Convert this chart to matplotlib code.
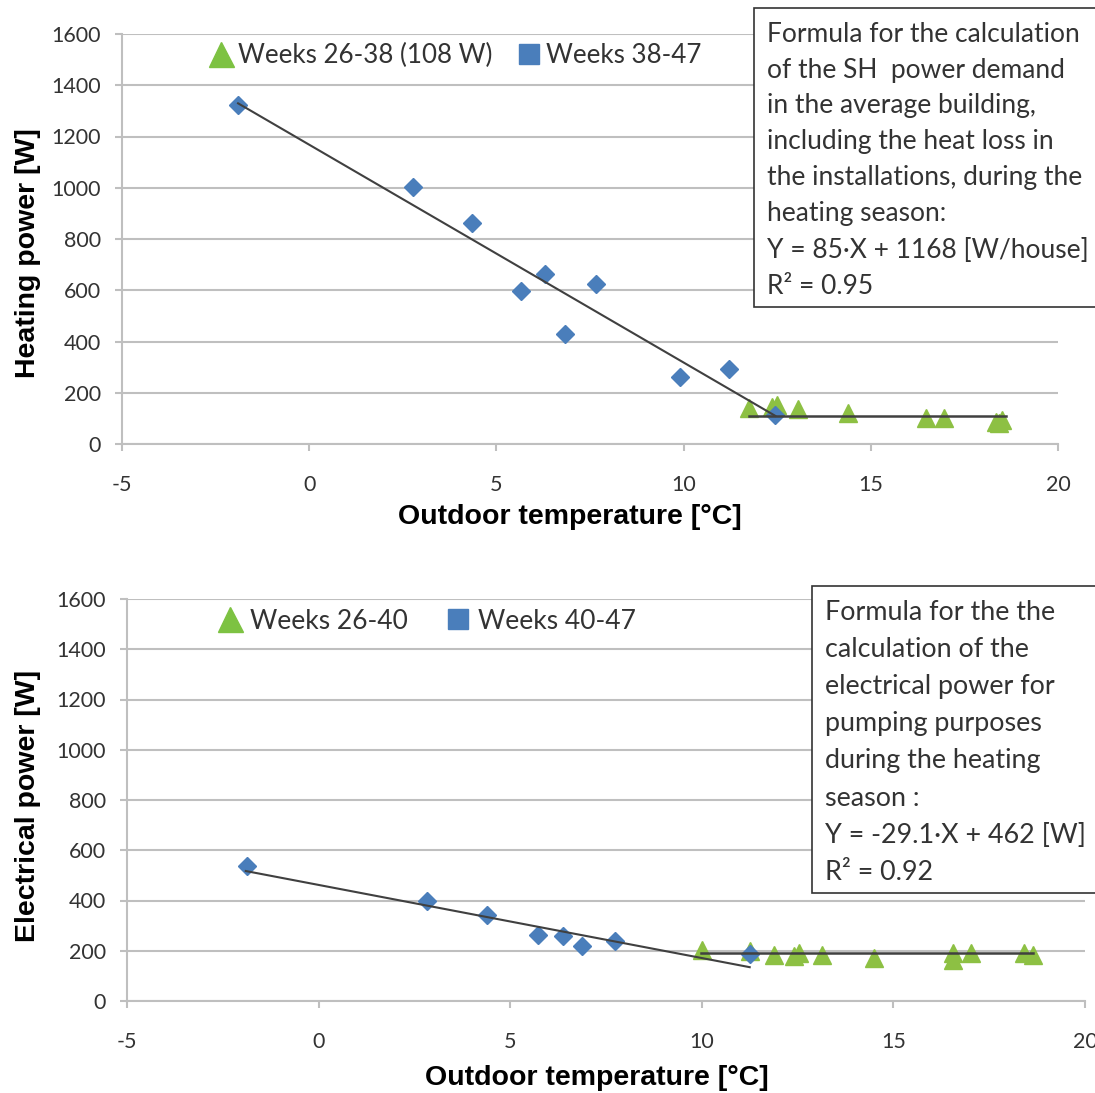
import matplotlib
matplotlib.use("Agg")
import matplotlib.pyplot as plt
from matplotlib.lines import Line2D
from matplotlib.patches import Rectangle

plt.rcParams['font.family'] = ['Lato', 'DejaVu Sans']
plt.rcParams['axes.unicode_minus'] = False

# Top chart: space heating power
heat_blue_x = [-1.9, 2.78, 4.35, 5.66, 6.30, 6.84, 7.67, 9.91, 11.22, 12.45]
heat_blue_y = [1323, 1003, 862, 597, 663, 429, 624, 261, 293, 113]
heat_green_x = [11.75, 12.37, 12.5, 13.06, 14.4, 16.48, 16.96, 18.35, 18.43, 18.5]
heat_green_y = [140, 144, 152, 137, 121, 101, 101, 86, 82, 94]
heat_slope, heat_icept = -85, 1168
heat_fit_x = [-1.9, 12.45]
heat_flat = 108
heat_flat_x = [11.75, 18.6]

# Bottom chart: electrical pumping power
el_blue_x = [-1.88, 2.82, 4.39, 5.72, 6.37, 6.87, 7.73, 11.25]
el_blue_y = [537, 398, 342, 263, 259, 219, 239, 188]
el_green_x = [10.0, 11.25, 11.88, 12.40, 12.53, 13.13, 14.49, 16.55, 16.55, 17.02, 18.41, 18.64]
el_green_y = [203, 199, 183, 179, 191, 183, 171, 191, 163, 191, 191, 183]
el_slope, el_icept = -29.1, 462
el_fit_x = [-1.9, 11.25]
el_flat = 192
el_flat_x = [9.97, 18.64]

x_ticks = [-5, 0, 5, 10, 15, 20]
y_ticks = [0, 200, 400, 600, 800, 1000, 1200, 1400, 1600]

blue = '#4A7EBB'
green = '#8DC043'
grid_c = '#BFBFBF'
line_c = '#404040'

W, H = 1095, 1093
fig = plt.figure(figsize=(W / 100, H / 100), dpi=100)


def px_axes(l, t, r, b):
    return fig.add_axes([l / W, 1 - b / H, (r - l) / W, (b - t) / H])


def style(ax):
    ax.set_xlim(-5, 20)
    ax.set_ylim(0, 1600)
    ax.set_xticks(x_ticks)
    ax.set_yticks(y_ticks)
    ax.grid(axis='y', color=grid_c, lw=1.5)
    ax.set_axisbelow(True)
    for s in ['top', 'right']:
        ax.spines[s].set_visible(False)
    for s in ['left', 'bottom']:
        ax.spines[s].set_color(grid_c)
        ax.spines[s].set_linewidth(1.5)
    ax.tick_params(axis='y', length=5, width=1.5, color=grid_c, pad=10,
                   labelsize=15.5, labelcolor='#333333')
    ax.tick_params(axis='x', length=5, width=1.5, color=grid_c, pad=17,
                   labelsize=15.5, labelcolor='#333333')


def draw(ax, bx, by, gx, gy, slope, icept, fit_x, flat, flat_x):
    ax.plot(gx, gy, ls='none', marker='^', ms=12.5, color=green, mec=green, zorder=3)
    ax.plot(bx, by, ls='none', marker='D', ms=9, color=blue, mec=blue, zorder=3)
    ax.plot(fit_x, [slope * v + icept for v in fit_x], color=line_c, lw=1.5, zorder=4)
    ax.plot(flat_x, [flat, flat], color=line_c, lw=1.8, zorder=4)


label_kw = dict(ha='center', va='center', fontsize=20.5, fontweight='bold',
                family='Liberation Sans')

# top
ax1 = px_axes(122, 34, 1058, 444)
style(ax1)
draw(ax1, heat_blue_x, heat_blue_y, heat_green_x, heat_green_y,
     heat_slope, heat_icept, heat_fit_x, heat_flat, heat_flat_x)
h1 = [Line2D([], [], ls='none', marker='^', ms=18, color='#7DC242'),
      Line2D([], [], ls='none', marker='s', ms=14, color=blue)]
ax1.legend(h1, ['Weeks 26-38 (108 W)', 'Weeks 38-47'], loc='upper left',
           bbox_to_anchor=(0.07, 1.035), ncol=2, frameon=False, fontsize=18.7,
           handlelength=0.8, handletextpad=0.25, columnspacing=1.0,
           labelcolor='#333333')
fig.text(28 / W, 1 - 253 / H, 'Heating power [W]', rotation=90, **label_kw)
fig.text(570 / W, 1 - 517 / H, 'Outdoor temperature [°C]', **label_kw)

# bottom
ax2 = px_axes(127, 599, 1085, 1001)
style(ax2)
draw(ax2, el_blue_x, el_blue_y, el_green_x, el_green_y,
     el_slope, el_icept, el_fit_x, el_flat, el_flat_x)
ax2.legend(h1, ['Weeks 26-40', 'Weeks 40-47'], loc='upper left',
           bbox_to_anchor=(0.072, 1.035), ncol=2, frameon=False, fontsize=19,
           handlelength=0.8, handletextpad=0.35, columnspacing=1.5,
           labelcolor='#333333')
fig.text(28 / W, 1 - 806 / H, 'Electrical power [W]', rotation=90, **label_kw)
fig.text(597 / W, 1 - 1078 / H, 'Outdoor temperature [°C]', **label_kw)

# formula boxes
box1 = ['Formula for the calculation', 'of the SH  power demand',
        'in the average building,', 'including the heat loss in',
        'the installations, during the', 'heating season:',
        'Y = 85·X + 1168 [W/house]', 'R² = 0.95']
box2 = ['Formula for the the', 'calculation of the', 'electrical power for',
        'pumping purposes', 'during the heating', 'season :',
        'Y = -29.1·X + 462 [W]', 'R² = 0.92']

fig.patches.append(Rectangle((754 / W, 1 - 307 / H), 360 / W, 299 / H,
                             transform=fig.transFigure, fc='white', ec='#333333',
                             lw=1.2, zorder=5))
for i, s in enumerate(box1):
    fig.text(767 / W, 1 - (34 + 36 * i) / H, s, va='center', ha='left',
             fontsize=19, color='#333333', zorder=6)

fig.patches.append(Rectangle((812 / W, 1 - 893 / H), 300 / W, 307 / H,
                             transform=fig.transFigure, fc='white', ec='#333333',
                             lw=1.2, zorder=5))
for i, s in enumerate(box2):
    fig.text(825 / W, 1 - (612 + 37.2 * i) / H, s, va='center', ha='left',
             fontsize=19.4, color='#333333', zorder=6)

fig.savefig('out.png', dpi=100)
